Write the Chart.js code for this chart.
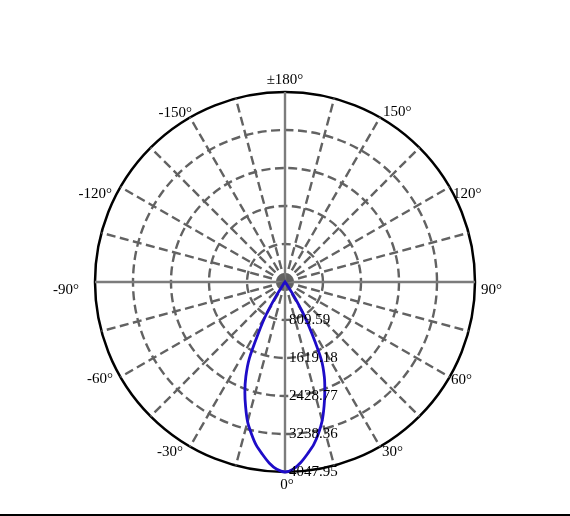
<!doctype html>
<html lang="en">
<head>
<meta charset="utf-8">
<title>Polar intensity</title>
<script src="https://cdn.jsdelivr.net/npm/chart.js"></script>
<style>
  html, body { margin: 0; padding: 0; background: #fff; }
  .wrap { position: relative; width: 570px; height: 516px; }
  .baseline { position: absolute; left: 0; top: 514px; width: 570px; height: 2px; background: #000; }
</style>
</head>
<body>
<div class="wrap">
  <canvas id="polar" width="570" height="516"></canvas>
  <div class="baseline"></div>
</div>
<script>
// sampling of the angle axis (degrees)
const step = 2.5;

// lobe, gamma in degrees (0 = down, + = right side)
const lobeAngles = [-40, -37.5, -35, -32.5, -30, -27.5, -25, -22.5, -20, -17.5, -15, -12.5, -10, -7.5, -5, -2.5,
  0, 2.5, 5, 7.5, 10, 12.5, 15, 17.5, 20, 22.5, 25, 27.5, 30, 32.5, 35, 37.5, 40];
const intensity = [0, 0, 60, 350, 800, 1230, 1800, 2180, 2500, 2790, 3080, 3310, 3530, 3700, 3870, 3995,
  4047.95, 3990, 3860, 3690, 3520, 3300, 3060, 2770, 2480, 2190, 1840, 1250, 790, 340, 60, 0, 0];

// radial ticks
const tickValues = [809.59, 1619.18, 2428.77, 3238.36, 4047.95];
const tickLabels = ['809.59', '1619.18', '2428.77', '3238.36', '4047.95'];
const maxValue = 4047.95;

// angle labels every 30 degrees
const angleLabelValues = [0, 30, 60, 90, 120, 150, 180, -150, -120, -90, -60, -30];

const count = 360 / step;
function gammaAt(i) {
  let g = -i * step;
  if (g <= -180) g += 360;
  return g;
}
const labels = [];
const values = [];
for (let i = 0; i < count; i++) {
  const g = gammaAt(i);
  labels.push(g);
  const k = lobeAngles.indexOf(g);
  values.push(k >= 0 ? intensity[k] : 0);
}

const serif = '"Liberation Serif", "Times New Roman", serif';

// label placement around the rim: [dx, dy, align]
const labelPlace = {
  '0': [2, 13, 'center'], '30': [2, 5.5, 'left'], '60': [1.5, 3, 'left'], '90': [6, 8, 'left'],
  '120': [3.5, 7, 'left'], '150': [3, -5, 'left'], '180': [0, -12, 'center'],
  '-150': [2, -4.5, 'right'], '-120': [-8.5, 7, 'right'], '-90': [-16, 8.5, 'right'],
  '-60': [-7.5, 2.5, 'right'], '-30': [-7, 5.5, 'right']
};

const polarText = {
  id: 'polarText',
  afterDatasetsDraw(chart) {
    const r = chart.scales.r;
    const ctx = chart.ctx;
    ctx.save();
    ctx.fillStyle = '#000';
    ctx.font = '15px ' + serif;
    ctx.textBaseline = 'middle';
    // tick labels along the 0 degree ray
    tickValues.forEach((v, k) => {
      const p = r.getPointPosition(0, r.getDistanceFromCenterForValue(v));
      ctx.textAlign = 'left';
      ctx.fillText(tickLabels[k], p.x + 4, p.y);
    });
    // angle labels
    labels.forEach((g, i) => {
      if (angleLabelValues.indexOf(g) < 0) return;
      const p = r.getPointPosition(i, r.drawingArea);
      const pl = labelPlace[String(g)];
      ctx.textAlign = pl[2];
      const txt = g === 180 ? '±180°' : g + '°';
      ctx.fillText(txt, p.x + pl[0], p.y + pl[1]);
    });
    ctx.restore();
  }
};

new Chart(document.getElementById('polar'), {
  type: 'radar',
  data: {
    labels: labels,
    datasets: [{
      data: values,
      borderColor: '#1e0cc8',
      borderWidth: 2.8,
      pointRadius: 0,
      fill: false,
      tension: 0.25
    }]
  },
  options: {
    responsive: false,
    animation: false,
    layout: { padding: { left: 95, right: 95, top: 92, bottom: 44 } },
    plugins: { legend: { display: false }, tooltip: { enabled: false } },
    scales: {
      r: {
        min: 0,
        max: maxValue,
        startAngle: 180,
        afterBuildTicks: (scale) => {
          scale.ticks = [0].concat(tickValues).map(v => ({ value: v }));
        },
        ticks: { display: false },
        pointLabels: { display: false },
        grid: {
          circular: true,
          color: (c) => c.index === tickValues.length ? '#000' : '#626262',
          lineWidth: (c) => c.index === tickValues.length ? 2.5 : 2.4
        },
        border: {
          dash: (c) => c.index === tickValues.length ? [] : [9, 4.5]
        },
        angleLines: {
          color: (c) => {
            const g = gammaAt(c.index);
            if (g % 90 === 0) return '#7c7c7c';
            return g % 15 === 0 ? '#626262' : 'rgba(0,0,0,0)';
          },
          lineWidth: (c) => gammaAt(c.index) % 15 === 0 ? 2.4 : 0,
          borderDash: (c) => gammaAt(c.index) % 90 === 0 ? [] : [9, 4.5]
        }
      }
    }
  },
  plugins: [polarText]
});
</script>
</body>
</html>
